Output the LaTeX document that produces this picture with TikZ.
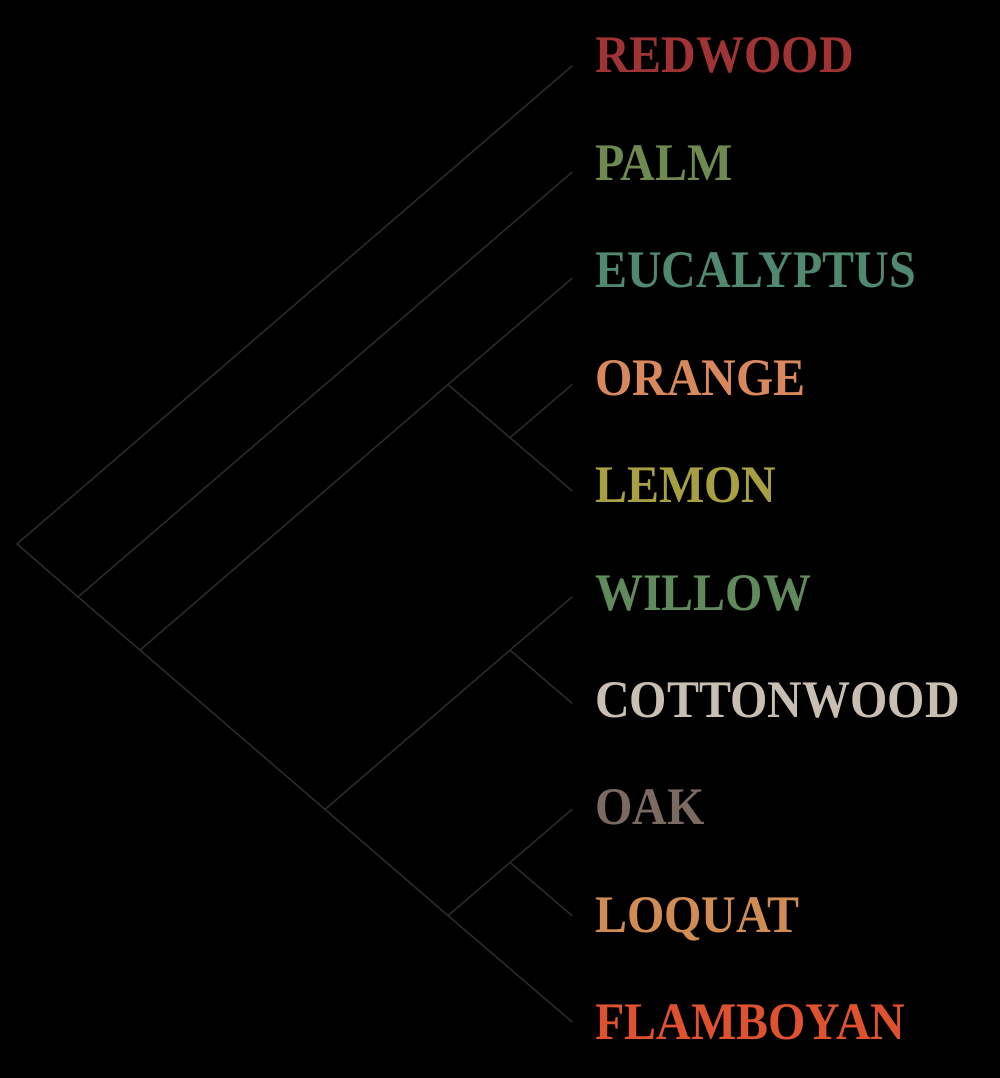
\documentclass[tikz,border=0pt]{standalone}
\usepackage{fontspec}
\setmainfont{Liberation Serif}
\definecolor{bgc}{RGB}{0,0,0}
\definecolor{edgec}{RGB}{42,42,42}
\definecolor{cRedwood}{RGB}{160,52,52}
\definecolor{cPalm}{RGB}{110,138,80}
\definecolor{cEuc}{RGB}{80,136,112}
\definecolor{cOrange}{RGB}{216,136,92}
\definecolor{cLemon}{RGB}{166,160,66}
\definecolor{cWillow}{RGB}{96,138,92}
\definecolor{cCotton}{RGB}{200,190,178}
\definecolor{cOak}{RGB}{122,106,98}
\definecolor{cLoquat}{RGB}{208,140,82}
\definecolor{cFlam}{RGB}{222,82,48}
\tikzset{
  edge/.style={draw=edgec, line width=1.5pt, line cap=round},
  taxon/.style={anchor=base west, inner sep=0pt, font=\fontsize{48}{48}\selectfont\bfseries},
}
\newcommand{\tallcaps}[1]{\scalebox{1}[1.1]{#1}}
\begin{document}
\begin{tikzpicture}[x=1pt,y=-1pt]
\fill[bgc] (0,0) rectangle (1000,1078);
\useasboundingbox (0,0) rectangle (1000,1078);
% leaves
\coordinate (L0) at (572,66);
\coordinate (L1) at (572,172.2);
\coordinate (L2) at (572,278.4);
\coordinate (L3) at (572,384.6);
\coordinate (L4) at (572,490.8);
\coordinate (L5) at (572,597);
\coordinate (L6) at (572,703.2);
\coordinate (L7) at (572,809.4);
\coordinate (L8) at (572,915.6);
\coordinate (L9) at (572,1021.8);
% internal nodes
\coordinate (root) at (17,543.9);
\coordinate (n1) at (78,597);
\coordinate (n2) at (140,650.1);
\coordinate (n3) at (448,384.6);
\coordinate (n4) at (510,437.7);
\coordinate (n5) at (325,809.4);
\coordinate (n6) at (510,650.1);
\coordinate (n7) at (448,915.6);
\coordinate (n8) at (510,862.5);
% edges
\draw[edge] (root) -- (L0);
\draw[edge] (root) -- (n1);
\draw[edge] (n1) -- (L1);
\draw[edge] (n1) -- (n2);
\draw[edge] (n2) -- (n3);
\draw[edge] (n3) -- (L2);
\draw[edge] (n3) -- (n4);
\draw[edge] (n4) -- (L3);
\draw[edge] (n4) -- (L4);
\draw[edge] (n2) -- (n5);
\draw[edge] (n5) -- (n6);
\draw[edge] (n6) -- (L5);
\draw[edge] (n6) -- (L6);
\draw[edge] (n5) -- (n7);
\draw[edge] (n7) -- (n8);
\draw[edge] (n8) -- (L7);
\draw[edge] (n8) -- (L8);
\draw[edge] (n7) -- (L9);
% labels
\node[taxon, text=cRedwood] (t0) at (595,73) {\tallcaps{REDWOOD}};
\node[taxon, text=cPalm] (t1) at (595,180.4) {\tallcaps{PALM}};
\node[taxon, text=cEuc] (t2) at (595,287.8) {\tallcaps{EUCALYPTUS}};
\node[taxon, text=cOrange] (t3) at (595,395.2) {\tallcaps{ORANGE}};
\node[taxon, text=cLemon] (t4) at (595,502.6) {\tallcaps{LEMON}};
\node[taxon, text=cWillow] (t5) at (595,610) {\tallcaps{WILLOW}};
\node[taxon, text=cCotton] (t6) at (595,717.4) {\tallcaps{COTTONWOOD}};
\node[taxon, text=cOak] (t7) at (595,824.8) {\tallcaps{OAK}};
\node[taxon, text=cLoquat] (t8) at (595,932.2) {\tallcaps{LOQUAT}};
\node[taxon, text=cFlam] (t9) at (595,1039.6) {\tallcaps{FLAMBOYAN}};
\end{tikzpicture}
\end{document}
